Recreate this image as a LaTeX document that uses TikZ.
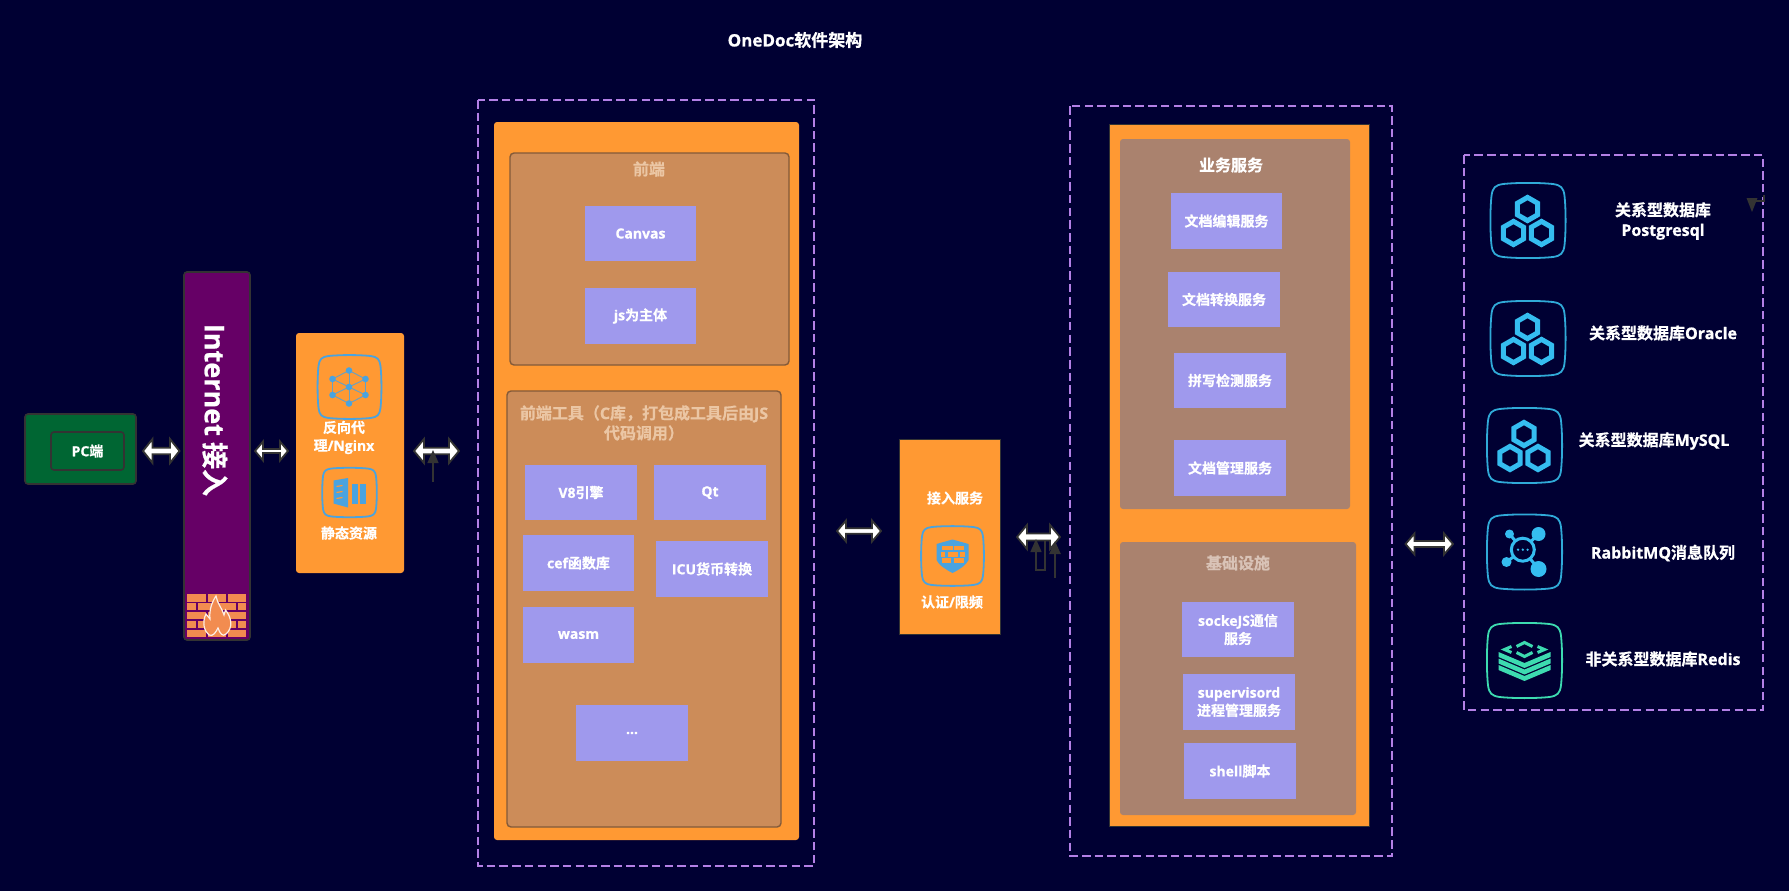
\documentclass[tikz,border=0pt]{standalone}
\usepackage{fontspec}
\setmainfont{Noto Sans CJK SC}[BoldFont={Noto Sans CJK SC Bold},BoldFeatures={FakeBold=0.7}]
\newfontfamily\latfont{Open Sans}[BoldFont={Open Sans Bold},BoldFeatures={FakeBold=0.8}]
\newcommand\LL[1]{{\latfont\bfseries #1}}
\usetikzlibrary{arrows.meta,calc}
\definecolor{bgc}{HTML}{000033}
\definecolor{orangec}{HTML}{FF9933}
\definecolor{brownc}{HTML}{CC8C59}
\definecolor{taupec}{HTML}{AA826E}
\definecolor{itemc}{HTML}{9F99ED}
\definecolor{dashc}{HTML}{B380E6}
\definecolor{dk}{HTML}{333333}
\definecolor{hexc}{HTML}{35BDF0}
\definecolor{tealc}{HTML}{3DDBB0}
\definecolor{bluei}{HTML}{4AA3DF}
\definecolor{brick}{HTML}{F28C50}
\tikzset{
  every node/.style={inner sep=0pt,outer sep=0pt,font=\bfseries\fontsize{14}{18}\selectfont,text=white,align=center},
  panel/.style={fill=orangec,rounded corners=3pt},
  sub/.style={draw=#1,line width=1.4pt,rounded corners=4pt},
  item/.style={fill=itemc,minimum width=111.5pt,minimum height=55.5pt,text=white},
  dashbox/.style={draw=dashc,line width=2pt,dash pattern=on 8.5pt off 4.2pt},
  big/.style={font=\bfseries\fontsize{16}{20}\selectfont},
  small arrow/.style={draw=dk,-{Triangle[length=13pt,width=11pt,fill=dk]}}
}
% double white arrow between two named coordinates: half head width, half shaft width, head length
\newcommand\fatarrow[5]{%
  \draw[draw=dk,fill=white,line width=1.8pt,miter limit=10]
    (#1) -- ++(#5,#3) -- ++(0,-#3+#4) -- ($(#2)+(-#5,#4)$) -- ++(0,#3-#4) -- (#2)
    -- ++(-#5,-#3) -- ++(0,#3-#4) -- ($(#1)+(#5,-#4)$) -- ++(0,-#3+#4) -- cycle;}
\newcommand\frameicon[5]{%
  \begin{scope}[shift={(#1,#2)},x=#3pt,y=-#4pt]
  \draw[line width=1.8pt,draw=#5]
    (-.68,1) .. controls (-.3,1.04) and (.3,1.04) .. (.68,1)
    .. controls (.9,.97) and (.97,.9) .. (1,.68)
    .. controls (1.04,.3) and (1.04,-.3) .. (1,-.68)
    .. controls (.97,-.9) and (.9,-.97) .. (.68,-1)
    .. controls (.3,-1.04) and (-.3,-1.04) .. (-.68,-1)
    .. controls (-.9,-.97) and (-.97,-.9) .. (-1,-.68)
    .. controls (-1.04,-.3) and (-1.04,.3) .. (-1,.68)
    .. controls (-.97,.9) and (-.9,.97) .. (-.68,1) -- cycle;
  \end{scope}}
\newcommand\hexa[2]{%
  \draw[hexc,line width=5pt,miter limit=10] (#1,#2-11.6) -- (#1+10.1,#2-5.8) -- (#1+10.1,#2+5.8) -- (#1,#2+11.6) -- (#1-10.1,#2+5.8) -- (#1-10.1,#2-5.8) -- cycle;}
\newcommand\dbicon[3]{%
  \frameicon{#1}{#2}{36.5}{36.5}{hexc!90!black}
  \begin{scope}[shift={(#1+#3,#2)}]
    \hexa{0}{-11.5}\hexa{-14}{12.5}\hexa{14}{12.5}
  \end{scope}}
\begin{document}
\begin{tikzpicture}[x=1pt,y=-1pt]
\useasboundingbox (0,0) rectangle (1789,891);
\fill[bgc] (0,0) rectangle (1789,891);

\node[font=\bfseries\fontsize{17}{20}\selectfont] (title) at (795,40) {\LL{OneDoc}软件架构};

% PC
\node[draw=dk,line width=1.6pt,rounded corners=3pt,minimum width=111pt,minimum height=70pt,fill={rgb,255:red,0;green,102;blue,51}] (pcouter) at (80.5,449) {};
\node[draw=dk,line width=1.6pt,rounded corners=3pt,minimum width=73pt,minimum height=38pt] (pc) at (87.5,451) {\LL{PC}端};

% Internet
\node[fill={rgb,255:red,102;green,0;blue,102},draw=dk,line width=1.6pt,rounded corners=3pt,minimum width=66pt,minimum height=368pt] (net) at (217,456) {};
\node[rotate=-90,font=\bfseries\fontsize{27}{30}\selectfont] (nettext) at (215,410) {\LL{Internet} 接入};
% firewall
\foreach \ya/\yb/\t in {594/601.7/0,603.3/610/1,612.3/619.3/0,621/628.3/1,630/637.3/0}{
  \ifnum\t=0
    \foreach \xa/\xb in {187.3/205.7,207.7/225.7,228.3/246}{\fill[brick] (\xa,\ya) rectangle (\xb,\yb);}
  \else
    \foreach \xa/\xb in {187.3/195.7,197.7/215.7,217.7/235.7,237.7/246}{\fill[brick] (\xa,\ya) rectangle (\xb,\yb);}
  \fi}
\draw[fill=brick,draw=white!85!brick,line width=1.2pt]
  (209,635) .. controls (204,631) and (202,622) .. (206,614)
  .. controls (207.5,617) .. (210,619) .. controls (209,610) and (212,602) .. (216,596)
  .. controls (217,603) and (222,608) .. (224,615) .. controls (225,613) .. (225.5,610)
  .. controls (232,618) and (233,628) .. (226,634) .. controls (223,637) and (220,634) .. (218,628)
  .. controls (216,632) and (213,637) .. (209,635) -- cycle;

% nginx panel
\node[panel,minimum width=108pt,minimum height=240pt] (nginx) at (350,453) {};
\frameicon{349.5}{387}{31}{31}{bluei}
\begin{scope}[shift={(349,387)}]
  \draw[bluei!85!orangec,line width=.9pt] (0,-16.5) -- (16.5,-8) -- (16.5,8) -- (0,16.5) -- (-16.5,8) -- (-16.5,-8) -- cycle;
  \foreach \p in {(0,-16.5),(16.5,-8),(16.5,8),(0,16.5),(-16.5,8),(-16.5,-8)} \draw[bluei!85!orangec,line width=.9pt] (0,0) -- \p;
  \foreach \p in {(0,-16.5),(16.5,-8),(16.5,8),(0,16.5),(-16.5,8),(-16.5,-8),(0,0)} \fill[bluei] \p circle (3.3);
\end{scope}
\node (nginxlbl) at (344,437.5) {反向代\\理\LL{/Nginx}};
\frameicon{349.5}{492.5}{26.5}{24}{bluei}
\begin{scope}[shift={(349.5,492.5)}]
  \fill[bluei] (-16,-12) -- (-1.5,-14.5) -- (-1.5,15) -- (-16,11) -- cycle;
  \fill[bluei] (2,-9) rectangle (8,11);
  \fill[bluei] (10.5,-9) rectangle (16,11);
  \foreach \yy in {-6,0,6}\draw[orangec,line width=1.2pt] (-13,\yy) -- (-7,\yy-1);
\end{scope}
\node (staticlbl) at (349,533) {静态资源};

% frontend
\draw[dashbox] (478,100) rectangle (814,866);
\node[panel,minimum width=305pt,minimum height=718pt] (fepanel) at (646.5,481) {};
\node[fill=brownc,sub=brownc!55!black!80!brownc,minimum width=279pt,minimum height=212pt] (fe) at (649.5,259) {};
\node[big,text={rgb,255:red,235;green,198;blue,164}] (fetitle) at (649,169) {前端};
\node[item] (canvas) at (640.5,233.5) {\LL{Canvas}};
\node[item] (js) at (640.5,316) {\LL{js}为主体};
\node[fill=brownc,sub=brownc!55!black!80!brownc,minimum width=274pt,minimum height=436pt] (tools) at (644,609) {};
\node[big,text={rgb,255:red,235;green,198;blue,164},text width=266pt,align=center] (toolstitle) at (644,423) {前端工具（\LL{C}库，打包成工具后由\LL{JS}\\代码调用）};
\node[item] (v8) at (581,492.5) {\LL{V8}引擎};
\node[item] (qt) at (710,492.5) {\LL{Qt}};
\node[item] (cef) at (578.5,563) {\LL{cef}函数库};
\node[item] (icu) at (712,569) {\LL{ICU}货币转换};
\node[item] (wasm) at (578.5,635) {\LL{wasm}};
\node[item] (more) at (632,733) {\LL{...}};

% access
\node[fill=orangec,draw=dk,line width=.6pt,minimum width=101pt,minimum height=195pt] (access) at (949.5,536.5) {};
\node (accesslbl) at (955,498) {接入服务};
\frameicon{952.5}{556}{30.5}{29}{bluei}
\begin{scope}[shift={(952.5,556)}]
  \fill[bluei] (0,-16.5) -- (-16,-12) -- (-16,4) .. controls (-14,9) and (-6,14) .. (0,17) .. controls (6,14) and (14,9) .. (16,4) -- (16,-12) -- cycle;
  \foreach \ya/\yb/\xa/\xb in {-10/-6/-11/0,-10/-6/1.5/11,-4/.7/-11.5/-7.5,-4/.7/-5/5,-4/.7/7.5/12,2.3/6.7/-11/-1.5,2.3/6.7/1.5/11}
    \fill[orangec] (\xa,\ya) rectangle (\xb,\yb);
\end{scope}
\node (authlbl) at (952,602) {认证\LL{/}限频};

% services
\draw[dashbox] (1070,106) rectangle (1392,856);
\node[fill=orangec,draw=dk,line width=.6pt,minimum width=260pt,minimum height=702pt] (svc) at (1239,475) {};
\node[fill=taupec,rounded corners=3pt,minimum width=230pt,minimum height=370pt] (biz) at (1235,324) {};
\node[big] (biztitle) at (1231,165) {业务服务};
\node[item] (s1) at (1226.5,221) {文档编辑服务};
\node[item] (s2) at (1224,299.5) {文档转换服务};
\node[item] (s3) at (1230,380.5) {拼写检测服务};
\node[item] (s4) at (1230,468) {文档管理服务};
\node[fill=taupec,rounded corners=3pt,minimum width=236pt,minimum height=273pt] (infra) at (1238,678.5) {};
\node[big,text={rgb,255:red,217;green,195;blue,183}] (infratitle) at (1238,563) {基础设施};
\node[item] (i1) at (1238,629.5) {\LL{sockeJS}通信\\服务};
\node[item] (i2) at (1239,702) {\LL{supervisord}\\进程管理服务};
\node[item] (i3) at (1240,771) {\LL{shell}脚本};

% storage
\draw[dashbox] (1464,155) rectangle (1763,710);
\dbicon{1528}{220.5}{-0.5}
\dbicon{1528}{338.5}{-0.5}
\dbicon{1524.5}{445.5}{-0.5}
\node[big] (pg) at (1663,221) {关系型数据库\\\LL{Postgresql}};
\node[big] (ora) at (1663,333) {关系型数据库\LL{Oracle}};
\node[big] (my) at (1654,441) {关系型数据库\LL{MySQL}};
\frameicon{1524.5}{552}{36.5}{36.5}{hexc!90!black}
\begin{scope}[shift={(1524.5,552)}]
  \foreach \p/\r in {(14,-18)/7,(-15,-18)/4.5,(-18,10)/5,(14,17)/8}{\draw[hexc,line width=3pt] (-1.7,-2.3) -- \p; \fill[hexc] \p circle (\r);}
  \draw[hexc,line width=3pt,fill=bgc] (-1.7,-2.3) circle (11.5);
  \foreach \xx in {-6.5,-1.7,3.1}\fill[hexc] (\xx,-2.3) circle (1.3);
\end{scope}
\node[big] (mq) at (1663,553) {\LL{RabbitMQ}消息队列};
\frameicon{1524.5}{660.5}{36.5}{36.5}{tealc}
\begin{scope}[shift={(1524.5,660.5)}]
  \foreach \Y in {-6,.5,7}\fill[tealc] (-26,\Y-2.5) -- (0,\Y+8.5) -- (26,\Y-2.5) -- (26,\Y+2.5) -- (0,\Y+13.5) -- (-26,\Y+2.5) -- cycle;
  \draw[tealc,line width=3pt] (-8,-14) -- (0,-18) -- (8,-14);
  \draw[tealc,line width=3pt] (-8,-8) -- (0,-4) -- (8,-8);
  \draw[tealc,line width=3pt] (-13,-14) -- (-20,-11) -- (-13,-8);
  \draw[tealc,line width=3pt] (13,-14) -- (20,-11) -- (13,-8);
\end{scope}
\node[big] (redis) at (1663,659) {非关系型数据库\LL{Redis}};

% connectors
\coordinate (a1l) at (143,451); \coordinate (a1r) at (179.5,451);
\coordinate (a2l) at (255,451); \coordinate (a2r) at (288,451);
\coordinate (a3l) at (414,451); \coordinate (a3r) at (459,451);
\coordinate (a4l) at (837,531); \coordinate (a4r) at (881,531);
\coordinate (a5l) at (1017,537); \coordinate (a5r) at (1060,537);
\coordinate (a6l) at (1405.5,544); \coordinate (a6r) at (1453,544);
\fatarrow{a1l}{a1r}{12}{3.2}{9.5}
\fatarrow{a2l}{a2r}{9.5}{2}{8}
\fatarrow{a3l}{a3r}{12}{3.2}{10}
\fatarrow{a4l}{a4r}{10.5}{2.8}{9}
\fatarrow{a5l}{a5r}{12}{3.5}{10}
\fatarrow{a6l}{a6r}{10.5}{3}{9}
\coordinate (b1s) at (433,482); \coordinate (b1e) at (433,450);
\draw[small arrow,line width=1.3pt] (b1s) -- (b1e);
\coordinate (b2s) at (1045,541); \coordinate (b2a) at (1045,570); \coordinate (b2b) at (1036,570); \coordinate (b2e) at (1036,539);
\draw[small arrow,line width=1.5pt] (b2s) -- (b2a) -- (b2b) -- (b2e);
\coordinate (b3s) at (1055,578); \coordinate (b3e) at (1055,541);
\draw[small arrow,line width=2.4pt] (b3s) -- (b3e);
\coordinate (c1s) at (1764,195); \coordinate (c1a) at (1764,201); \coordinate (c1e) at (1752,212);
\draw[draw=dk,line width=1.3pt] (c1s) -- (c1a) -- (1752,201);
\fill[dk] (1746.5,198) -- (1757.5,198) -- (c1e) -- cycle;
\end{tikzpicture}
\end{document}
